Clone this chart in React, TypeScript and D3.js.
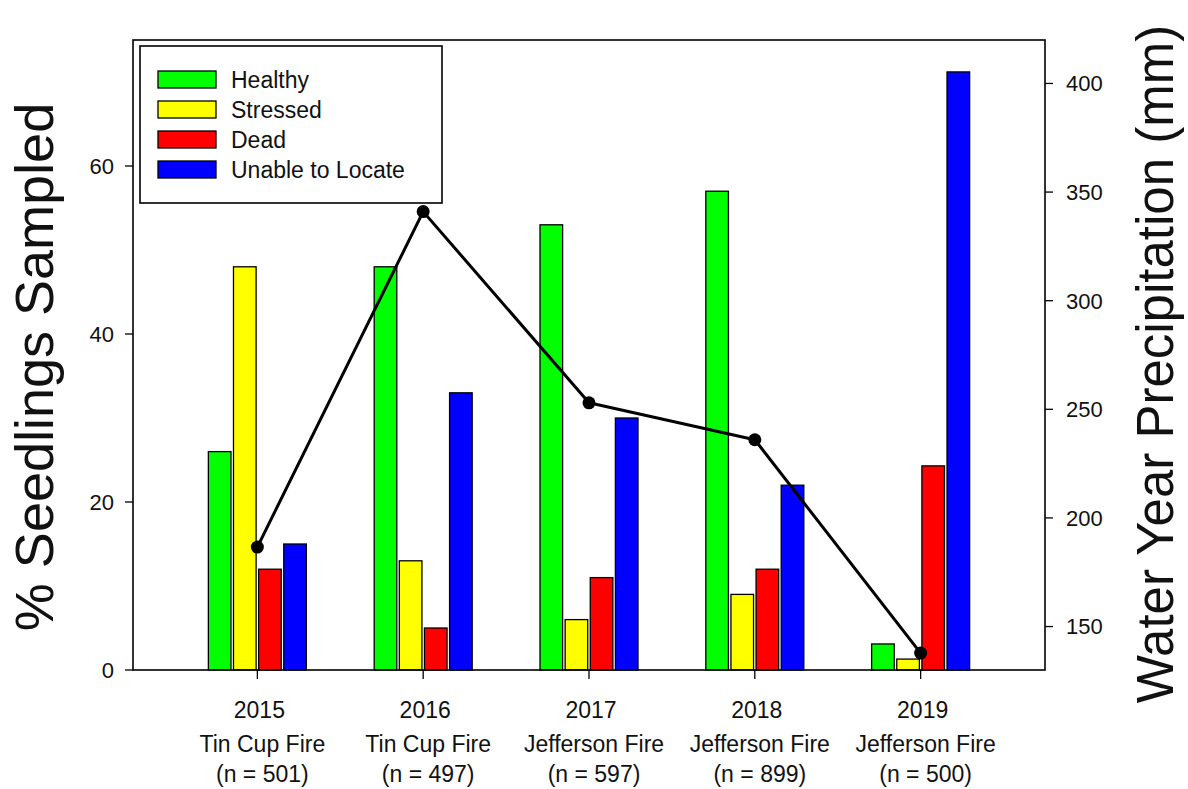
import * as d3 from "d3";

const years = [2015, 2016, 2017, 2018, 2019];
const fires = ["Tin Cup Fire", "Tin Cup Fire", "Jefferson Fire", "Jefferson Fire", "Jefferson Fire"];
const sampleSizes = [501, 497, 597, 899, 500];

const seriesNames = ["Healthy", "Stressed", "Dead", "Unable to Locate"];
const healthy = [26, 48, 53, 57, 3.1];
const stressed = [48, 13, 6, 9, 1.3];
const dead = [12, 5, 11, 12, 24.3];
const unableToLocate = [15, 33, 30, 22, 71.2];
const precipitation = [186.6, 341, 253, 236, 137.8];

const leftTicks = [0, 20, 40, 60];
const rightTicks = [150, 200, 250, 300, 350, 400];

const width = 1188;
const height = 789;
const plot = { left: 133, right: 1045, top: 40, bottom: 670 };
const font = "'Liberation Sans', Arial, sans-serif";
const colors = ["#00ff00", "#ffff00", "#ff0000", "#0000ff"];

const seriesValues = [healthy, stressed, dead, unableToLocate];

export default function App() {
  const x = d3.scaleLinear().domain([2014.25, 2019.75]).range([plot.left, plot.right]);
  const yLeft = d3.scaleLinear().domain([0, 75]).range([plot.bottom, plot.top]);
  const yRight = d3.scaleLinear().domain([130, 420]).range([plot.bottom, plot.top]);
  // bars inside one year group, in pixels around the year tick
  const inner = d3.scaleBand<string>().domain(seriesNames).range([-49, 49]).paddingInner(0.1);

  const line = d3
    .line<number>()
    .x((_, i) => x(years[i]))
    .y((d) => yRight(d));

  return (
    <svg
      width={width}
      height={height}
      viewBox={`0 0 ${width} ${height}`}
      style={{ position: "absolute", left: 0, top: 0, background: "#fff" }}
      fontFamily={font}
    >
      <rect x={0} y={0} width={width} height={height} fill="#fff" />

      {/* bars */}
      {years.map((year, i) => (
        <g key={year}>
          {seriesNames.map((name, s) => {
            const v = seriesValues[s][i];
            const x0 = x(year) + (inner(name) ?? 0);
            return (
              <rect
                key={name}
                x={x0}
                y={yLeft(v)}
                width={inner.bandwidth()}
                height={yLeft(0) - yLeft(v)}
                fill={colors[s]}
                stroke="#000"
                strokeWidth={1.3}
              />
            );
          })}
        </g>
      ))}

      {/* precipitation line */}
      <path d={line(precipitation) ?? ""} fill="none" stroke="#000" strokeWidth={3} strokeLinejoin="round" />
      {precipitation.map((p, i) => (
        <circle key={years[i]} cx={x(years[i])} cy={yRight(p)} r={6.5} fill="#000" />
      ))}

      {/* frame */}
      <rect
        x={plot.left}
        y={plot.top}
        width={plot.right - plot.left}
        height={plot.bottom - plot.top}
        fill="none"
        stroke="#000"
        strokeWidth={1.6}
      />

      {/* left axis */}
      {leftTicks.map((t) => (
        <g key={t}>
          <line x1={plot.left - 8} x2={plot.left} y1={yLeft(t)} y2={yLeft(t)} stroke="#000" strokeWidth={1.3} />
          <text x={plot.left - 19} y={yLeft(t)} dy="0.36em" textAnchor="end" fontSize={22} fill="#111">
            {t}
          </text>
        </g>
      ))}

      {/* right axis */}
      {rightTicks.map((t) => (
        <g key={t}>
          <line x1={plot.right} x2={plot.right + 8} y1={yRight(t)} y2={yRight(t)} stroke="#000" strokeWidth={1.3} />
          <text x={plot.right + 21} y={yRight(t)} dy="0.36em" textAnchor="start" fontSize={22} fill="#111">
            {t}
          </text>
        </g>
      ))}

      {/* bottom axis */}
      {years.map((year, i) => (
        <g key={year}>
          <line x1={x(year)} x2={x(year)} y1={plot.bottom} y2={plot.bottom + 9} stroke="#000" strokeWidth={1.3} />
          <text x={x(year) + 2} y={718} textAnchor="middle" fontSize={23} fill="#111">
            {year}
          </text>
          <text x={x(year) + 5} y={752} textAnchor="middle" fontSize={23} fill="#111">
            {fires[i]}
          </text>
          <text x={x(year) + 5} y={782} textAnchor="middle" fontSize={23} fill="#111">
            (n = {sampleSizes[i]})
          </text>
        </g>
      ))}

      {/* axis titles */}
      <text transform="translate(53,367) rotate(-90)" textAnchor="middle" fontSize={54} fill="#111">
        % Seedlings Sampled
      </text>
      <text transform="translate(1173,364) rotate(-90)" textAnchor="middle" fontSize={51} fill="#111">
        Water Year Precipitation (mm)
      </text>

      {/* legend */}
      <rect x={140} y={46} width={302} height={157} fill="#fff" stroke="#000" strokeWidth={1.6} />
      {seriesNames.map((name, s) => (
        <g key={name} transform={`translate(158,${79.5 + s * 30})`}>
          <rect x={0} y={-8.5} width={58} height={17} fill={colors[s]} stroke="#000" strokeWidth={1.3} />
          <text x={73} y={0} dy="0.36em" fontSize={23} fill="#111">
            {name}
          </text>
        </g>
      ))}
    </svg>
  );
}
